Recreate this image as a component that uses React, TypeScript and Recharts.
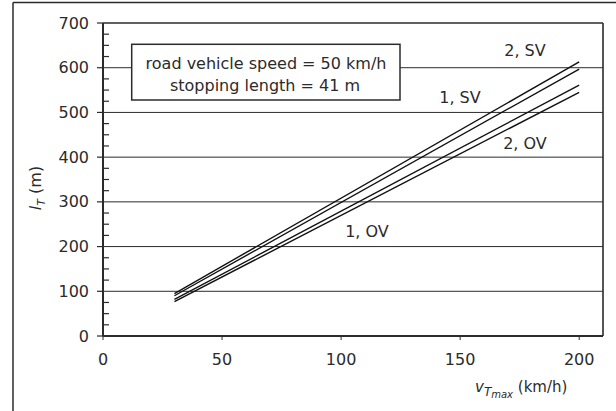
import { LineChart, Line, XAxis, YAxis, ReferenceLine } from "recharts";

// line data (straight lines from 30 to 200 km/h)
const speeds = [30, 200];
const twoSV = [95, 613];
const oneSV = [90, 597];
const twoOV = [82, 561];
const oneOV = [77, 545];

const xTicks = [0, 50, 100, 150, 200];
const yMajor = [0, 100, 200, 300, 400, 500, 600, 700];
const yTicks = yMajor.flatMap((v) => (v < 700 ? [v, v + 25, v + 50, v + 75] : [v]));
const gridValues = [100, 200, 300, 400, 500, 600];

const data = speeds.map((s, i) => ({
  speed: s,
  twoSV: twoSV[i],
  oneSV: oneSV[i],
  twoOV: twoOV[i],
  oneOV: oneOV[i],
}));

const INK = "#2b2b2b";
const FONT = "'DejaVu Sans', sans-serif";

const YTick = (props: any) => {
  const { x, y, payload } = props;
  const v = payload.value;
  if (v % 100 === 0) {
    return (
      <g>
        <line x1={x - 6} x2={x} y1={y} y2={y} stroke={INK} strokeWidth={1.2} />
        <text x={x - 14} y={y} textAnchor="end" dominantBaseline="central" fill={INK} fontSize={16}>
          {v}
        </text>
      </g>
    );
  }
  // minor ticks point inward
  return <line x1={x} x2={x + 6} y1={y} y2={y} stroke={INK} strokeWidth={1.2} />;
};

export default function App() {
  return (
    <div style={{ position: "absolute", left: 0, top: 0, width: 616, height: 411, background: "#fff", fontFamily: FONT }}>
      <LineChart width={616} height={411} data={data} margin={{ top: 23, right: 13, bottom: 45, left: 0 }}>
        {gridValues.map((v) => (
          <ReferenceLine key={v} y={v} stroke={INK} strokeWidth={1} />
        ))}
        <ReferenceLine y={700} stroke={INK} strokeWidth={1.6} />
        <ReferenceLine x={210} stroke={INK} strokeWidth={1.6} />
        <XAxis
          dataKey="speed"
          type="number"
          domain={[0, 210]}
          ticks={xTicks}
          interval={0}
          height={30}
          tickSize={4}
          tickMargin={14}
          axisLine={{ stroke: INK, strokeWidth: 2 }}
          tickLine={{ stroke: INK }}
          tick={{ fill: INK, fontSize: 16 }}
        />
        <YAxis
          type="number"
          domain={[0, 700]}
          ticks={yTicks}
          interval={0}
          width={103}
          tickSize={0}
          tickMargin={0}
          tickLine={false}
          axisLine={{ stroke: INK, strokeWidth: 2 }}
          tick={<YTick />}
        />
        <Line dataKey="twoSV" stroke="#111" strokeWidth={1.4} dot={false} isAnimationActive={false} />
        <Line dataKey="oneSV" stroke="#111" strokeWidth={1.4} dot={false} isAnimationActive={false} />
        <Line dataKey="twoOV" stroke="#111" strokeWidth={1.4} dot={false} isAnimationActive={false} />
        <Line dataKey="oneOV" stroke="#111" strokeWidth={1.4} dot={false} isAnimationActive={false} />
      </LineChart>

      <svg width={616} height={411} style={{ position: "absolute", left: 0, top: 0, pointerEvents: "none" }}>
        <line x1={13} y1={2.5} x2={616} y2={2.5} stroke={INK} strokeWidth={1.5} />
        <line x1={13} y1={2.5} x2={13} y2={411} stroke={INK} strokeWidth={1.5} />

        <rect x={131.7} y={44.3} width={268.3} height={55.7} fill="#fff" stroke={INK} strokeWidth={1.5} />
        <text x={266} y={63.3} textAnchor="middle" dominantBaseline="central" fontSize={16} fill={INK}>
          road vehicle speed = 50 km/h
        </text>
        <text x={265} y={85} textAnchor="middle" dominantBaseline="central" fontSize={16} fill={INK}>
          stopping length = 41 m
        </text>

        <text x={525} y={50} textAnchor="middle" dominantBaseline="central" fontSize={16} fill={INK}>2, SV</text>
        <text x={460} y={97} textAnchor="middle" dominantBaseline="central" fontSize={16} fill={INK}>1, SV</text>
        <text x={525} y={143} textAnchor="middle" dominantBaseline="central" fontSize={16} fill={INK}>2, OV</text>
        <text x={367} y={231} textAnchor="middle" dominantBaseline="central" fontSize={16} fill={INK}>1, OV</text>

        <text transform="translate(36,188) rotate(-90)" textAnchor="middle" fontSize={16} fill={INK} dy={5}>
          <tspan fontStyle="italic">l</tspan>
          <tspan fontStyle="italic" fontSize={11} dy={4}>T</tspan>
          <tspan dy={-4}> (m)</tspan>
        </text>

        <text x={475} y={392} fontSize={15} fill={INK}>
          <tspan fontStyle="italic">v</tspan>
          <tspan fontStyle="italic" fontSize={12} dy={4}>T</tspan>
          <tspan fontStyle="italic" fontSize={10} dy={2}>max</tspan>
          <tspan dy={-6}> (km/h)</tspan>
        </text>
      </svg>
    </div>
  );
}
